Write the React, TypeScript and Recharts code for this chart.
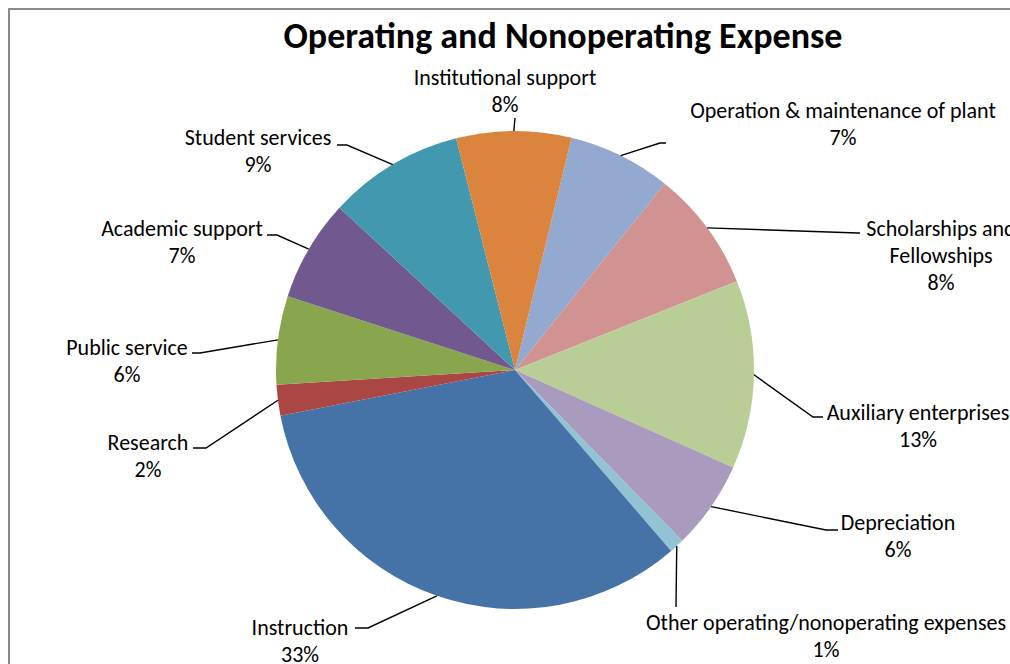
import { PieChart, Pie, Cell } from "recharts";

// slices clockwise, starting just right of 12 o'clock
const categories = [
  "Operation & maintenance of plant",
  "Scholarships and Fellowships",
  "Auxiliary enterprises",
  "Depreciation",
  "Other operating/nonoperating expenses",
  "Instruction",
  "Research",
  "Public service",
  "Academic support",
  "Student services",
  "Institutional support",
];
const shares = [7.0, 8.2, 12.8, 6.0, 1.0, 33.4, 2.1, 6.0, 6.9, 9.2, 7.8];
const colors = [
  "#93A9CF", "#D09392", "#B9CD96", "#A99BBD", "#92C3D4",
  "#4572A7", "#AA4643", "#89A54E", "#71588F", "#4198AF", "#DB843D",
];

const data = categories.map((name, i) => ({ name, value: shares[i] }));

// label placement relative to pie centre: text centre, leader elbow, leader end
const LABEL_LAYOUT = [
  { tx: 328, ty: -260, ex: 145, ey: -227, hx: 151, wrap: 40 },
  { tx: 426, ty: -142, ex: 343, ey: -137, hx: 345, wrap: 16 },
  { tx: 403, ty: 42, ex: 298, ey: 47, hx: 308, wrap: 40 },
  { tx: 383, ty: 152, ex: 311, ey: 160, hx: 323, wrap: 40 },
  { tx: 311, ty: 252, ex: 161, ey: 237, hx: 161, wrap: 40 },
  { tx: -215, ty: 257, ex: -147, ey: 258, hx: -160, wrap: 40 },
  { tx: -367, ty: 72, ex: -309, ey: 78, hx: -322, wrap: 40 },
  { tx: -388, ty: -23, ex: -315, ey: -17, hx: -323, wrap: 40 },
  { tx: -333, ty: -142, ex: -238, ey: -135, hx: -248, wrap: 40 },
  { tx: -257, ty: -233, ex: -168, ey: -225, hx: -178, wrap: 40 },
  { tx: -10, ty: -293, ex: 0, ey: -252, hx: 0, wrap: 40 },
];

const FONT = "Calibri, Carlito, Lato, sans-serif";
const RAD = Math.PI / 180;

function wrapText(s: string, max: number) {
  const words = s.split(" ");
  const lines: string[] = [];
  let cur = "";
  for (const w of words) {
    const next = cur ? cur + " " + w : w;
    if (next.length > max && cur) {
      lines.push(cur);
      cur = w;
    } else cur = next;
  }
  if (cur) lines.push(cur);
  return lines;
}

function renderLabel(props: any) {
  const { cx, cy, midAngle, outerRadius, percent, index, name } = props;
  const lay = LABEL_LAYOUT[index];
  const sx = cx + outerRadius * Math.cos(-midAngle * RAD);
  const sy = cy + outerRadius * Math.sin(-midAngle * RAD);
  const lines = [...wrapText(name, lay.wrap), `${Math.round(percent * 100)}%`];
  const top = cy + lay.ty;
  return (
    <g key={`lbl-${index}`}>
      <polyline
        points={`${sx},${sy} ${cx + lay.ex},${cy + lay.ey} ${cx + lay.hx},${cy + lay.ey}`}
        fill="none"
        stroke="#000"
        strokeWidth={1.4}
      />
      {lines.map((l, j) => (
        <text
          key={j}
          x={cx + lay.tx}
          y={top + j * 27}
          textAnchor="middle"
          dominantBaseline="central"
          fontFamily={FONT}
          fontSize={22}
          fill="#000"
        >
          {l}
        </text>
      ))}
    </g>
  );
}

export default function App() {
  return (
    <div style={{ position: "absolute", left: 0, top: 0, width: 1010, height: 664, overflow: "hidden", background: "#fff" }}>
      <div style={{ position: "absolute", left: 8, top: 8, width: 1100, height: 700, border: "2px solid #8a8a8a", boxSizing: "border-box" }} />
      <div
        style={{
          position: "absolute", left: 213, top: 16, width: 700, textAlign: "center",
          fontFamily: FONT, fontWeight: 700, fontSize: 36, lineHeight: "40px", color: "#000",
        }}
      >
        Operating and Nonoperating Expense
      </div>
      <div style={{ position: "absolute", left: 0, top: 0 }}>
        <PieChart width={1010} height={664} margin={{ top: 0, right: 0, bottom: 0, left: 0 }}>
          <Pie
            data={data}
            dataKey="value"
            nameKey="name"
            cx={515}
            cy={370}
            outerRadius={239}
            startAngle={76.3}
            endAngle={-283.7}
            stroke="none"
            label={renderLabel}
            labelLine={false}
            isAnimationActive={false}
          >
            {data.map((d, i) => (
              <Cell key={d.name} fill={colors[i]} />
            ))}
          </Pie>
        </PieChart>
      </div>
    </div>
  );
}
